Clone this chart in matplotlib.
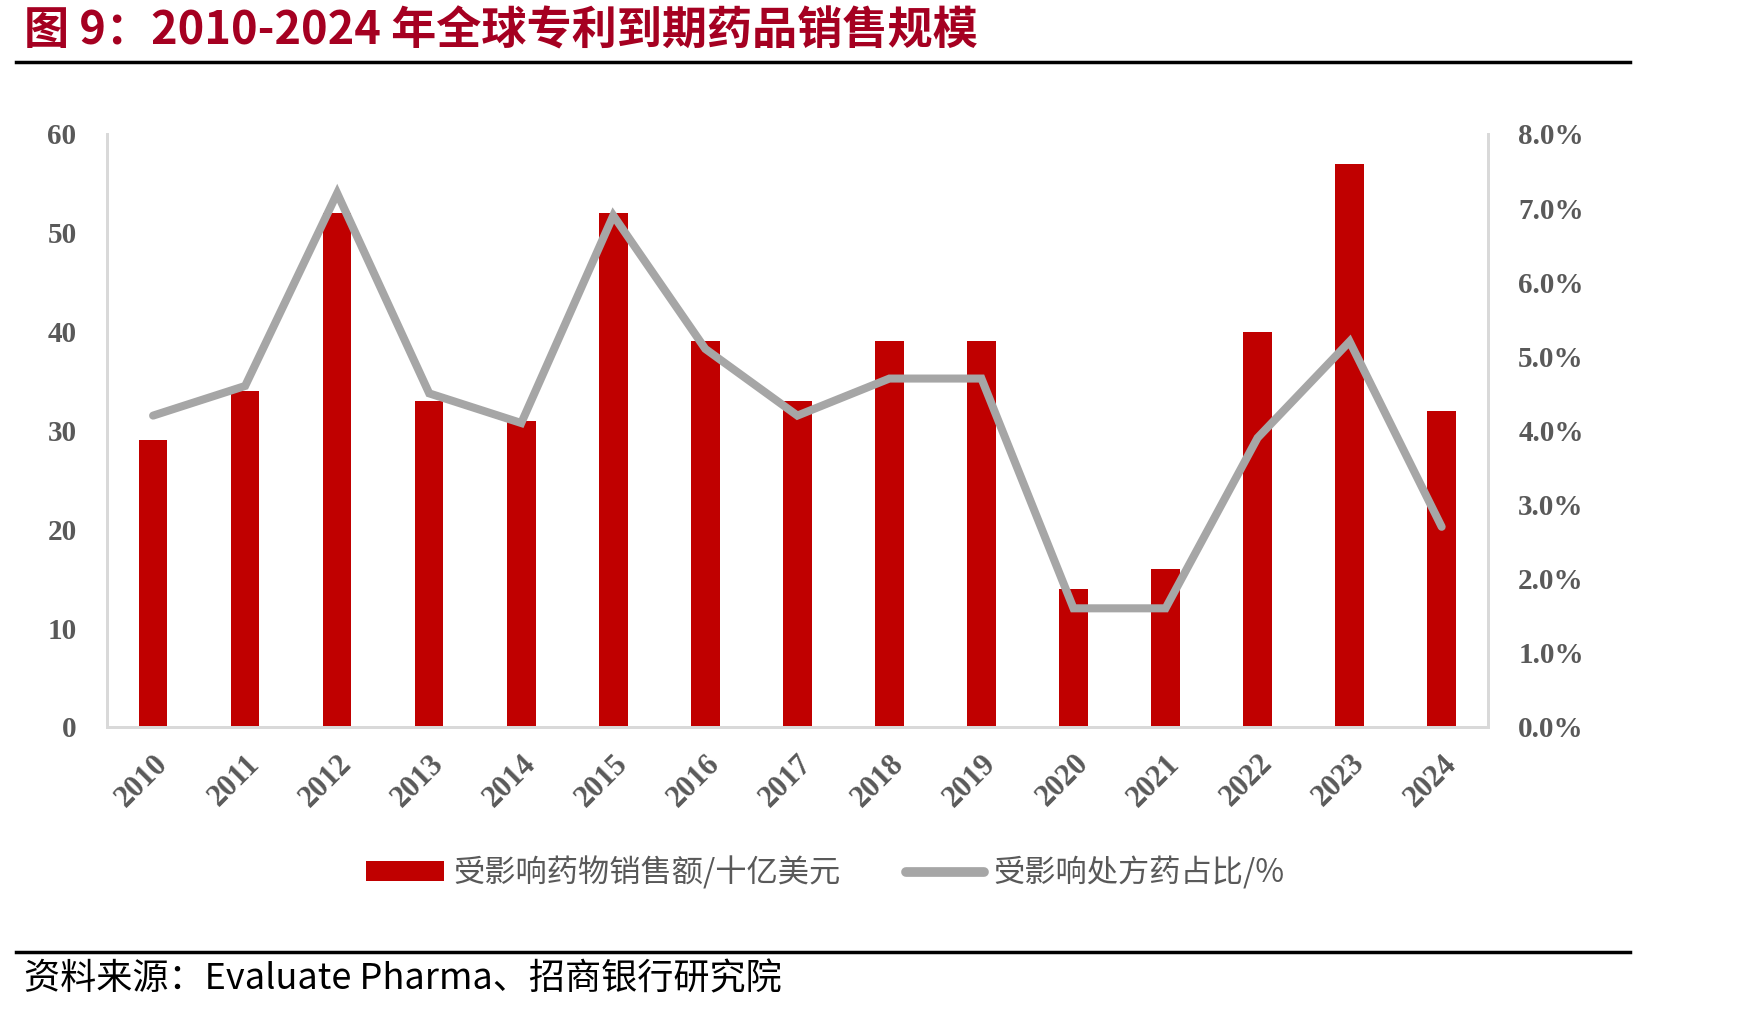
import numpy as np
import matplotlib.pyplot as plt
from matplotlib.lines import Line2D
from matplotlib.patches import Patch

plt.rcParams['font.family'] = ['Noto Sans CJK SC', 'DejaVu Sans']

years = ["2010", "2011", "2012", "2013", "2014", "2015", "2016", "2017",
         "2018", "2019", "2020", "2021", "2022", "2023", "2024"]
sales = [29, 34, 52, 33, 31, 52, 39, 33, 39, 39, 14, 16, 40, 57, 32]
share = [4.2, 4.6, 7.2, 4.5, 4.1, 6.9, 5.1, 4.2, 4.7, 4.7, 1.6, 1.6, 3.9, 5.2, 2.7]

bar_label = "受影响药物销售额/十亿美元"
line_label = "受影响处方药占比/%"
title = "图 9：2010-2024 年全球专利到期药品销售规模"
source = "资料来源：Evaluate Pharma、招商银行研究院"

RED = "#C00000"
GRAY = "#A6A6A6"
TXT = "#595959"
AX = "#D9D9D9"

fig = plt.figure(figsize=(17.41, 10.11), dpi=100)
ax = fig.add_axes([0.0615, 0.281, 0.793, 0.5865])
ax2 = ax.twinx()

x = np.arange(len(years))
ax.bar(x, sales, width=0.31, color=RED, zorder=2)
ax2.plot(x, share, color=GRAY, lw=5.8, solid_capstyle="round",
         solid_joinstyle="miter", zorder=3)

ax.set_xlim(-0.5, len(years) - 0.5)
ax.set_ylim(0, 60)
ax2.set_ylim(0, 8)
ax.set_yticks(np.arange(0, 61, 10))
ax2.set_yticks(np.arange(0, 8.1, 1))
ax2.set_yticklabels([f"{v:.1f}%" for v in np.arange(0, 8.1, 1)])
ax.set_xticks(x)
ax.set_xticklabels(years, rotation=45, ha="right", va="top",
                   rotation_mode="anchor")

for lab in ax.get_xticklabels() + ax.get_yticklabels() + ax2.get_yticklabels():
    lab.set_fontfamily("Liberation Serif")
    lab.set_fontweight("bold")
    lab.set_fontsize(21)
    lab.set_color(TXT)
for lab in ax.get_xticklabels():
    lab.set_fontsize(22)

ax.tick_params(axis="both", length=0)
ax2.tick_params(axis="both", length=0)
ax.tick_params(axis="y", pad=22)
ax.tick_params(axis="x", pad=16)
ax2.tick_params(axis="y", pad=22)

for a in (ax, ax2):
    a.spines["top"].set_visible(False)
    for s in ("left", "right", "bottom"):
        a.spines[s].set_color(AX)
        a.spines[s].set_linewidth(2)

# title and rules
fig.text(0.014, 0.969, title, color="#A50021", fontsize=32.5, fontweight="bold",
         ha="left", va="center")
fig.add_artist(Line2D([0.009, 0.936], [0.939, 0.939], color="black", lw=2.5,
                      transform=fig.transFigure))
fig.add_artist(Line2D([0.009, 0.936], [0.058, 0.058], color="black", lw=2.5,
                      transform=fig.transFigure))
fig.text(0.014, 0.031, source, color="black", fontsize=26, ha="left",
         va="center")

handles = [Patch(facecolor=RED, edgecolor="none"),
           Line2D([0], [0], color=GRAY, lw=7, solid_capstyle="round")]
leg = fig.legend(handles, [bar_label, line_label], loc="center",
                 bbox_to_anchor=(0.474, 0.137), ncol=2, frameon=False,
                 fontsize=22.5, handlelength=2.5, handleheight=0.6,
                 columnspacing=2.1, handletextpad=0.3)
for t in leg.get_texts():
    t.set_color(TXT)

fig.savefig("out.png", dpi=100)
